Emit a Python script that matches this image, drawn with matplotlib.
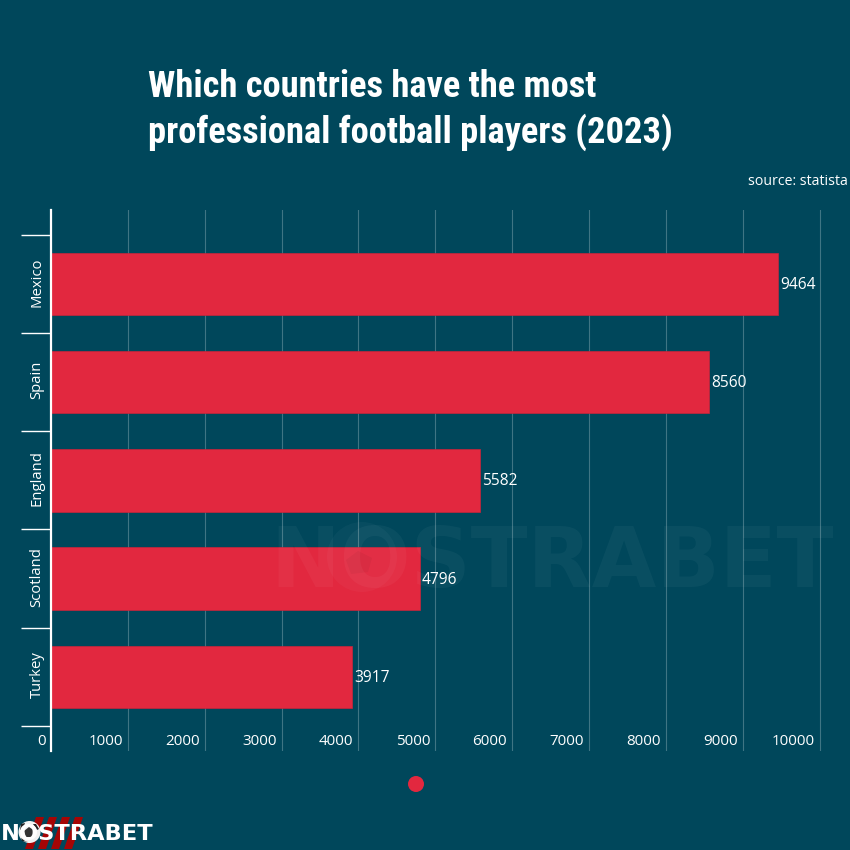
import matplotlib
matplotlib.use("Agg")
import matplotlib.pyplot as plt
from matplotlib import font_manager as fm
from matplotlib.patches import Circle, Polygon
from matplotlib.transforms import ScaledTranslation

countries = ["Mexico", "Spain", "England", "Scotland", "Turkey"]
players = [9464, 8560, 5582, 4796, 3917]
x_ticks = [0, 1000, 2000, 3000, 4000, 5000, 6000, 7000, 8000, 9000, 10000]
title = "Which countries have the most\nprofessional football players (2023)"
source = "source: statista"
brand = "NOSTRABET"

BG = "#00475b"
RED = "#e2283f"
W = 850.0
names = {f.name for f in fm.fontManager.ttflist}
title_font = next((n for n in ["Liberation Sans Narrow", "Roboto Condensed", "Open Sans Condensed", "Liberation Sans"] if n in names))
body = "Open Sans"

fig = plt.figure(figsize=(8.5, 8.5), dpi=100, facecolor=BG)
L, R, T, B = 51, 824, 210, 751
ax = fig.add_axes([L / W, 1 - B / W, (R - L) / W, (B - T) / W], facecolor="none")
ax.set_xlim(0, 10000 * (R - L) / 768.5)
ax.set_ylim(4.756, -0.754)

ax.barh(range(len(countries)), players, height=0.635, color=RED, edgecolor="#c9243a", linewidth=0.5, zorder=3)
for i, v in enumerate(players):
    ax.annotate(str(v), (v, i), xytext=(1.5, -0.7), textcoords="offset points", va="center", ha="left",
                color="white", fontsize=11.2, family=body, zorder=5)

for s in ["top", "right", "bottom"]:
    ax.spines[s].set_visible(False)
ax.spines["left"].set_color("white")
ax.spines["left"].set_linewidth(1.6)
ax.spines["left"].set_zorder(6)

ax.set_xticks(x_ticks)
ax.set_xticklabels([str(t) for t in x_ticks], family=body, fontsize=10.9, color="white", ha="right")
ax.tick_params(axis="x", length=0, pad=-12.5)
off = ScaledTranslation(-5 / 100, 0, fig.dpi_scale_trans)
for lab in ax.get_xticklabels():
    lab.set_transform(lab.get_transform() + off)
    lab.set_zorder(7)
ax.grid(axis="x", color="#ffffff", alpha=0.25, linewidth=0.8, zorder=1)

ax.set_yticks(range(len(countries)))
ax.set_yticklabels(countries, rotation=90, va="center", ha="center", family=body, fontsize=10.7, color="white")
ax.tick_params(axis="y", length=0, pad=10)
yoff = ScaledTranslation(0, 2 / 100, fig.dpi_scale_trans)
for lab in ax.get_yticklabels():
    lab.set_transform(lab.get_transform() + yoff)
ax.set_yticks([i - 0.5 for i in range(len(countries) + 1)], minor=True)
ax.tick_params(axis="y", which="minor", length=21.6, width=1, color="white")

ov = fig.add_axes([0, 0, 1, 1], facecolor="none", zorder=10)
ov.set_xlim(0, W)
ov.set_ylim(W, 0)
ov.axis("off")

# title and source
ov.text(148, 110, title, family=title_font, weight="bold", fontsize=26.3, color="white",
        va="center", ha="left", linespacing=1.3)
ov.text(848, 181, source, family=body, fontsize=10.2, color="white", va="center", ha="right")

# legend dot
ov.add_patch(Circle((416, 784), 8, color=RED, lw=0))

# watermark
ov.text(552, 564, brand, family="DejaVu Sans", weight="bold", fontsize=60, color="white", alpha=0.04,
        ha="center", va="center")
ov.add_patch(Circle((362, 557), 35, color="white", alpha=0.03, lw=0))
ov.add_patch(Polygon([(358, 551), (372, 558), (368, 572), (351, 574), (346, 560)], color="black", alpha=0.04, lw=0))

# logo
for x0 in [36, 49, 62, 75]:
    ov.add_patch(Polygon([(x0, 817), (x0 + 8, 817), (x0 - 3, 849), (x0 - 11, 849)], color="#a50505", lw=0))
ov.text(1, 834, brand, family="DejaVu Sans", weight="bold", fontsize=16.2, color="white", ha="left", va="center")
ov.add_patch(Circle((29.5, 832), 11, color="#f2f2f2", lw=0))
ov.add_patch(Polygon([(29, 827), (35, 831), (33, 837), (26, 837), (24, 831)], color="#333333", lw=0))
ov.add_patch(Polygon([(21, 824), (25, 823), (23, 829), (20, 830)], color="#222222", lw=0))
ov.add_patch(Polygon([(36, 824), (39, 829), (37, 830), (33, 824)], color="#222222", lw=0))
ov.add_patch(Polygon([(21, 838), (25, 841), (28, 842), (22, 841)], color="#222222", lw=0))

fig.savefig("out.png", dpi=100, facecolor=BG)
